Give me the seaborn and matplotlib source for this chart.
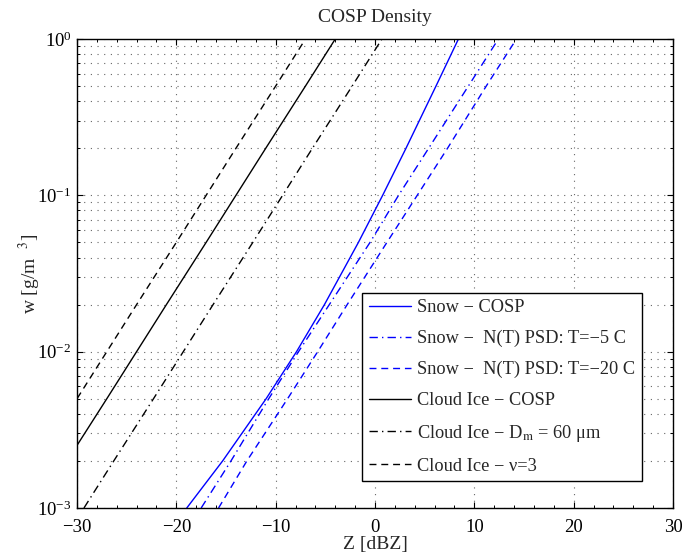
import numpy as np
import pandas as pd
import matplotlib
matplotlib.use("Agg")
import matplotlib.pyplot as plt
import matplotlib.ticker as mticker
import seaborn as sns

# ---- data ----
w_levels = [0.001, 0.002, 0.005, 0.01, 0.02, 0.05, 0.1, 0.2, 0.5, 1.0]   # g/m^3

z_snow_cosp   = [-18.95, -15.34, -10.96, -7.9, -5.09, -1.67, 0.77, 3.12, 6.14, 8.4]
z_snow_t5     = [-17.5, -14.5, -10.7, -7.7, -4.6, -0.5, 2.37, 5.4, 9.4, 12.42]
z_snow_t20    = [-15.75, -12.9, -8.8, -5.77, -2.8, 1.2, 4.25, 7.3, 11.2, 14.24]
z_ice_cosp    = [-34.0, -31.0, -27.0, -24.0, -21.0, -17.0, -14.0, -11.0, -7.0, -4.0]
z_ice_dm60    = [-29.3, -26.3, -22.3, -19.3, -16.3, -12.3, -9.3, -6.3, -2.3, 0.7]
z_ice_nu3     = [-37.0, -34.0, -30.0, -27.0, -24.0, -20.0, -17.0, -14.0, -10.0, -7.0]

labels = ["Snow \u2212 COSP",
          "Snow \u2212  N(T) PSD: T=\u22125 C",
          "Snow \u2212  N(T) PSD: T=\u221220 C",
          "Cloud Ice \u2212 COSP",
          "Cloud Ice \u2212 D$_\\mathrm{m}$ = 60 \u03bcm",
          "Cloud Ice \u2212 \u03bd=3"]
series = [z_snow_cosp, z_snow_t5, z_snow_t20, z_ice_cosp, z_ice_dm60, z_ice_nu3]
colors = ["#0000ff", "#0000ff", "#0000ff", "black", "black", "black"]
dash_styles = [None, (6, 3, 1, 3), (5, 3.5), None, (6, 3, 1, 3), (5, 3.5)]

xticks = [-30, -20, -10, 0, 10, 20, 30]

# ---- style ----
sns.set_style("ticks")
plt.rcParams["font.family"] = ["Liberation Serif", "DejaVu Serif"]
plt.rcParams["mathtext.fontset"] = "stix"
plt.rcParams["axes.unicode_minus"] = True

fig = plt.figure(figsize=(6.82, 5.54), dpi=100)
ax = fig.add_axes([77/682, 46/554, 596/682, 469/554])

for z, lab, c, d in zip(series, labels, colors, dash_styles):
    df = pd.DataFrame({"Z": z, "w": w_levels})
    sns.lineplot(data=df, x="Z", y="w", ax=ax, color=c, lw=1.0,
                 estimator=None, sort=False, label=lab)
    ln = ax.lines[-1]
    if d is not None:
        ln.set_dashes(d)

ax.set_yscale("log")
ax.set_xlim(-30, 30)
ax.set_ylim(1e-3, 1)
ax.set_xticks(xticks)
ax.set_xticklabels([str(t).replace("-", "\u2212") for t in xticks])
ax.xaxis.set_minor_locator(mticker.MultipleLocator(2))
ax.yaxis.set_minor_locator(mticker.LogLocator(base=10, subs=np.arange(2, 10)))
ax.yaxis.set_minor_formatter(mticker.NullFormatter())

ax.tick_params(which="both", direction="in", top=True, right=True,
               labelsize=13.5, colors="black")
ax.tick_params(which="major", length=4.5, width=0.8, pad=4)
ax.tick_params(axis="x", which="major", pad=8)
ax.tick_params(which="minor", length=2.2, width=0.7)
for s in ax.spines.values():
    s.set_linewidth(1.0)
    s.set_color("black")

ax.grid(True, which="major", axis="both", linestyle=(0, (1, 5)), color="0.4", lw=0.8)
ax.grid(True, which="minor", axis="y", linestyle=(0, (1, 5)), color="0.4", lw=0.8)

ax.set_xlabel("Z [dBZ]", fontsize=14, labelpad=0)
ax.set_ylabel("w [g/m  $^{3}$]", fontsize=14)
ax.yaxis.set_label_coords(-0.057, 0.5)
ax.set_title("COSP Density", fontsize=14, pad=12)

leg = ax.legend(loc="lower left", bbox_to_anchor=(0.479, 0.0576), fontsize=13.2,
                frameon=True, fancybox=False, edgecolor="black", framealpha=1,
                handlelength=2.3, handletextpad=0.35, labelspacing=0.75,
                borderpad=0.35, borderaxespad=0)
leg.get_frame().set_linewidth(1.0)

fig.savefig("out.png", dpi=100, facecolor="white")
